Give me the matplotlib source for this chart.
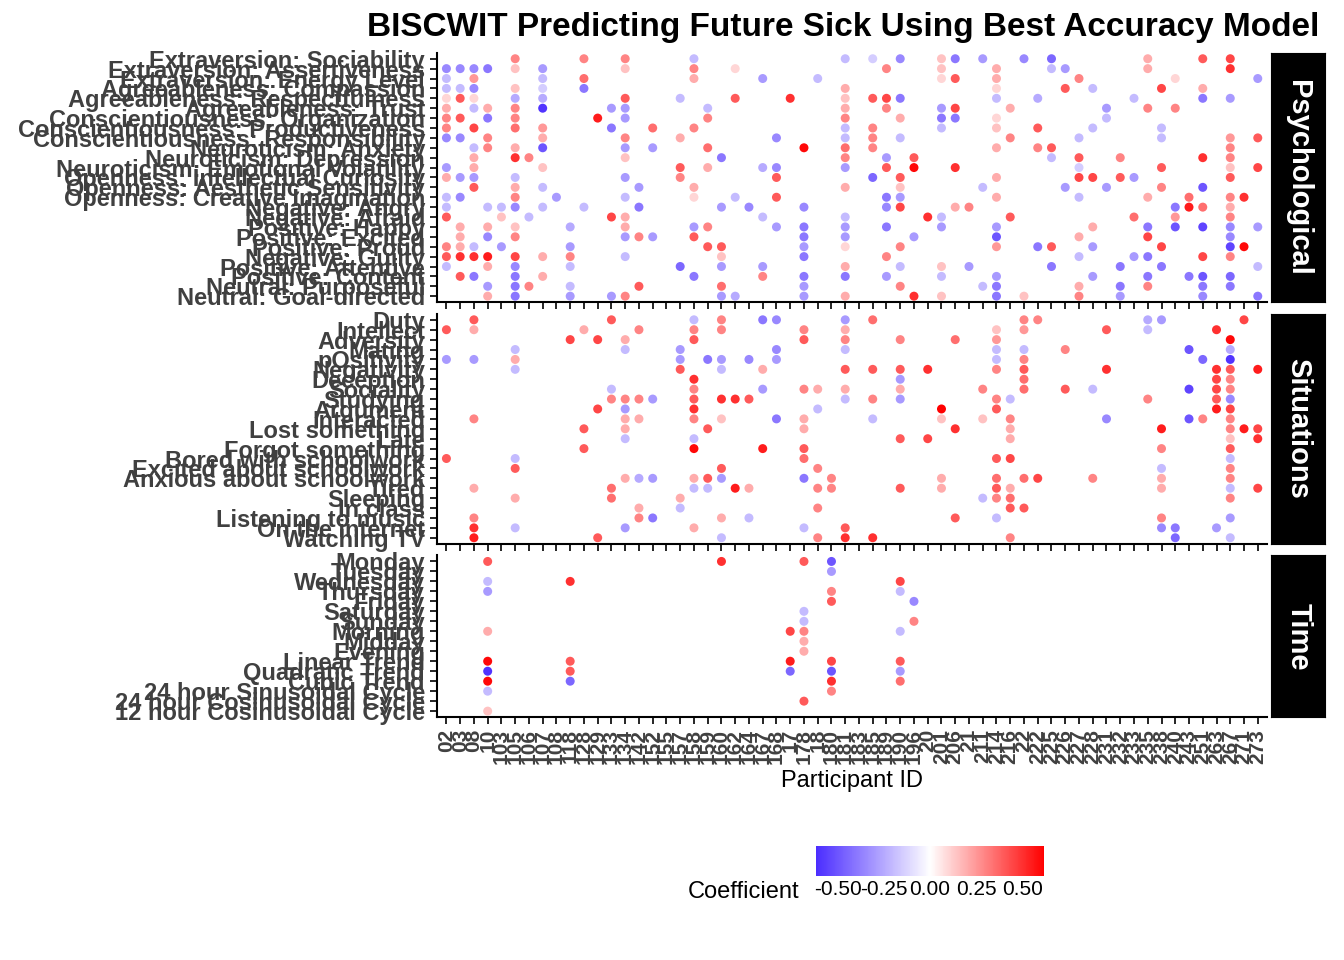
import numpy as np
import matplotlib.pyplot as plt
from matplotlib.colors import LinearSegmentedColormap

plt.rcParams['font.family'] = ['Liberation Sans', 'DejaVu Sans']

# --- DANE ---
participants = ["02", "03", "08", "10", "103", "105", "106", "107", "108", "118",
                "128", "129", "133", "134", "142", "152", "155", "157", "158", "159",
                "160", "162", "164", "167", "168", "17", "178", "18", "180", "181",
                "183", "185", "189", "190", "196", "20", "201", "206", "21", "211",
                "214", "216", "22", "222", "225", "226", "227", "228", "231", "232",
                "233", "235", "238", "240", "243", "251", "263", "267", "271", "273"]

psych_rows = ["Extraversion: Sociability", "Extraversion: Assertiveness", "Extraversion: Energy Level",
              "Agreeableness: Compassion", "Agreeableness: Respectfulness", "Agreeableness: Trust",
              "Conscientiousness: Organization", "Conscientiousness: Productiveness",
              "Conscientiousness: Responsibility", "Neuroticism: Anxiety", "Neuroticism: Depression",
              "Neuroticism: Emotional Volatility", "Openness: Intellectual Curiosity",
              "Openness: Aesthetic Sensitivity", "Openness: Creative Imagination", "Negative: Angry",
              "Negative: Afraid", "Positive: Happy", "Positive: Excited", "Positive: Proud",
              "Negative: Guilty", "Positive: Attentive", "Positive: Content", "Neutral: Purposeful",
              "Neutral: Goal-directed"]
situ_rows = ["Duty", "Intellect", "Adversity", "Mating", "pOsitivity", "Negativity", "Deception",
             "Sociality", "Studying", "Argument", "Interacted", "Lost something", "Late",
             "Forgot something", "Bored with schoolwork", "Excited about schoolwork",
             "Anxious about schoolwork", "Tired", "Sleeping", "In class", "Listening to music",
             "On the internet", "Watching TV"]
time_rows = ["Monday", "Tuesday", "Wednesday", "Thursday", "Friday", "Saturday", "Sunday",
             "Morning", "Midday", "Evening", "Linear Trend", "Quadratic Trend", "Cubic Trend",
             "24 hour Sinusoidal Cycle", "24 hour Cosinusoidal Cycle", "12 hour Cosinusoidal Cycle"]

psych_pts = [
    (0, 5, .3), (0, 10, .3), (0, 13, .3), (0, 18, -.2), (0, 29, -.2), (0, 31, -.15), (0, 33, -.35),
    (0, 36, .15), (0, 37, -.4), (0, 39, -.3), (0, 42, -.35), (0, 44, -.45), (0, 51, .2), (0, 55, .4), (0, 57, .45),
    (1, 0, -.35), (1, 1, -.35), (1, 2, -.35), (1, 3, -.4), (1, 5, .15), (1, 7, -.3), (1, 13, .15),
    (1, 18, .3), (1, 21, .1), (1, 32, .3), (1, 36, .15), (1, 40, .2), (1, 44, -.2), (1, 45, -.3), (1, 51, .2),
    (1, 57, .5),
    (2, 0, -.2), (2, 2, .25), (2, 7, -.2), (2, 10, .35), (2, 18, .2), (2, 23, -.3), (2, 27, -.2),
    (2, 36, .1), (2, 37, .4), (2, 40, .2), (2, 46, .3), (2, 53, .1), (2, 59, -.3),
    (3, 0, -.2), (3, 1, -.2), (3, 2, -.35), (3, 5, .15), (3, 7, -.15), (3, 10, -.4), (3, 29, .2),
    (3, 40, .1), (3, 45, .4), (3, 47, -.2), (3, 52, .45), (3, 55, .2),
    (4, 0, .1), (4, 1, .4), (4, 2, .1), (4, 5, -.25), (4, 7, -.25), (4, 13, .4), (4, 17, -.2),
    (4, 21, .4), (4, 25, .5), (4, 29, .15), (4, 31, .4), (4, 32, .45), (4, 33, -.4), (4, 40, -.2), (4, 43, -.25),
    (4, 50, -.2), (4, 55, -.4), (4, 57, -.3),
    (5, 0, .2), (5, 2, -.2), (5, 3, .2), (5, 5, .3), (5, 7, -.6), (5, 12, -.3), (5, 13, -.3),
    (5, 19, -.2), (5, 29, .2), (5, 32, .3), (5, 36, -.3), (5, 37, .45), (5, 41, .2), (5, 48, -.3), (5, 51, .3),
    (5, 53, .3),
    (6, 0, .3), (6, 1, .4), (6, 3, -.4), (6, 5, .3), (6, 11, .55), (6, 13, -.3), (6, 19, .3),
    (6, 29, .3), (6, 33, .2), (6, 36, -.4), (6, 37, -.4), (6, 40, .1), (6, 48, -.2),
    (7, 0, .3), (7, 2, .45), (7, 5, .35), (7, 7, .25), (7, 12, -.4), (7, 15, .35), (7, 18, .3),
    (7, 29, -.2), (7, 31, .3), (7, 36, -.2), (7, 40, .15), (7, 43, .4), (7, 47, -.2), (7, 52, -.2),
    (8, 0, -.35), (8, 1, -.35), (8, 3, .3), (8, 7, .2), (8, 13, .3), (8, 17, .2), (8, 24, -.35),
    (8, 29, -.2), (8, 31, .3), (8, 33, -.2), (8, 41, .3), (8, 46, -.2), (8, 52, -.2), (8, 57, .25), (8, 59, .4),
    (9, 2, -.2), (9, 3, .3), (9, 5, .2), (9, 7, -.5), (9, 13, -.3), (9, 15, -.3), (9, 19, .35),
    (9, 26, .6), (9, 29, .35), (9, 31, .3), (9, 40, .2), (9, 43, .3), (9, 44, .4), (9, 57, .3),
    (10, 2, .2), (10, 5, .5), (10, 6, .3), (10, 13, .15), (10, 20, -.4), (10, 29, .3), (10, 32, -.3),
    (10, 34, .4), (10, 44, -.2), (10, 46, .4), (10, 49, .3), (10, 55, .5), (10, 57, .3),
    (11, 0, -.3), (11, 2, .2), (11, 7, .15), (11, 17, .4), (11, 19, .2), (11, 23, -.25), (11, 24, -.35),
    (11, 29, -.3), (11, 32, .4), (11, 34, .6), (11, 37, .5), (11, 46, -.15), (11, 52, .4), (11, 57, .15),
    (11, 59, .45),
    (12, 0, .2), (12, 1, -.3), (12, 2, -.3), (12, 5, -.2), (12, 13, -.3), (12, 17, .3), (12, 24, .4),
    (12, 31, -.45), (12, 33, .4), (12, 40, .2), (12, 46, .45), (12, 47, .45), (12, 49, .4), (12, 50, -.3),
    (12, 57, .4),
    (13, 2, .4), (13, 5, .2), (13, 7, -.2), (13, 14, -.3), (13, 18, .2), (13, 29, .2), (13, 33, .15),
    (13, 39, -.2), (13, 45, -.3), (13, 48, -.3), (13, 52, .3), (13, 55, -.5),
    (14, 0, -.2), (14, 1, -.35), (14, 5, .3), (14, 8, -.3), (14, 13, -.2), (14, 18, .1), (14, 21, -.2),
    (14, 24, .4), (14, 32, -.4), (14, 33, -.3), (14, 40, .2), (14, 46, -.2), (14, 51, .2), (14, 54, .35),
    (14, 57, .3), (14, 58, .5),
    (15, 0, -.2), (15, 3, -.2), (15, 4, -.2), (15, 5, -.35), (15, 7, -.2), (15, 10, -.2), (15, 14, -.4),
    (15, 20, -.3), (15, 22, -.35), (15, 26, -.35), (15, 32, -.35), (15, 33, .45), (15, 37, .2), (15, 38, .3),
    (15, 53, -.4), (15, 54, .55), (15, 55, .35), (15, 57, .2),
    (16, 0, .4), (16, 4, .15), (16, 6, -.2), (16, 12, .45), (16, 13, .2), (16, 23, -.2), (16, 29, -.2),
    (16, 35, .5), (16, 36, -.2), (16, 41, .4), (16, 50, .35), (16, 53, .25), (16, 57, .3),
    (17, 1, .2), (17, 3, .2), (17, 5, .15), (17, 9, -.25), (17, 13, .2), (17, 18, -.3), (17, 19, .3),
    (17, 24, -.3), (17, 26, -.4), (17, 29, -.3), (17, 32, -.4), (17, 36, -.3), (17, 40, -.3), (17, 47, .2),
    (17, 51, -.4), (17, 53, -.5), (17, 55, -.55), (17, 57, -.35), (17, 59, -.3),
    (18, 1, .2), (18, 3, -.35), (18, 5, .3), (18, 13, -.3), (18, 14, .3), (18, 15, -.3), (18, 18, .4),
    (18, 26, -.4), (18, 29, -.3), (18, 34, -.3), (18, 40, -.5), (18, 46, .2), (18, 51, .45), (18, 57, -.35),
    (19, 0, .3), (19, 1, .2), (19, 2, -.2), (19, 4, -.3), (19, 9, -.3), (19, 19, .4), (19, 20, .4),
    (19, 26, -.3), (19, 29, .1), (19, 33, .3), (19, 40, .25), (19, 43, -.4), (19, 44, .4), (19, 47, -.3),
    (19, 52, .45), (19, 57, -.55), (19, 58, .6),
    (20, 0, .4), (20, 1, .5), (20, 2, .5), (20, 3, .55), (20, 5, .45), (20, 7, .2), (20, 9, .3),
    (20, 13, -.2), (20, 20, .15), (20, 26, -.4), (20, 32, .3), (20, 46, -.2), (20, 50, -.3), (20, 51, -.4),
    (20, 55, .45), (20, 57, .3),
    (21, 0, -.2), (21, 3, .2), (21, 5, -.35), (21, 9, -.2), (21, 17, -.45), (21, 20, -.3), (21, 23, -.3),
    (21, 29, .2), (21, 33, -.2), (21, 36, .15), (21, 38, -.3), (21, 44, -.4), (21, 49, -.4), (21, 52, -.4),
    (21, 59, -.2),
    (22, 1, .4), (22, 2, -.4), (22, 5, -.4), (22, 7, .2), (22, 18, -.4), (22, 23, .3), (22, 26, -.4),
    (22, 29, -.4), (22, 32, -.3), (22, 36, -.2), (22, 40, -.3), (22, 47, -.3), (22, 51, -.4), (22, 54, -.4),
    (22, 55, -.5), (22, 57, -.45),
    (23, 3, -.3), (23, 5, -.4), (23, 6, .3), (23, 9, -.2), (23, 14, .4), (23, 20, .35), (23, 26, -.3),
    (23, 33, .3), (23, 39, -.2), (23, 40, -.4), (23, 46, .2), (23, 49, -.4), (23, 51, .3), (23, 55, -.4),
    (23, 57, -.4),
    (24, 3, .2), (24, 5, -.4), (24, 9, -.3), (24, 12, -.3), (24, 13, .3), (24, 20, -.3), (24, 21, -.25),
    (24, 26, -.3), (24, 29, .2), (24, 34, .5), (24, 36, .15), (24, 40, -.4), (24, 42, .15), (24, 46, .3),
    (24, 49, -.3), (24, 55, -.35), (24, 59, -.4),
]
situ_pts = [
    (0, 2, .4), (0, 12, .4), (0, 18, -.2), (0, 20, .3), (0, 23, -.4), (0, 24, -.35), (0, 29, -.3),
    (0, 31, .35), (0, 42, .3), (0, 43, .3), (0, 51, -.25), (0, 52, -.3), (0, 58, .45),
    (1, 0, .4), (1, 2, .2), (1, 10, .2), (1, 14, .3), (1, 18, .3), (1, 20, .3), (1, 26, .3),
    (1, 29, .2), (1, 40, .15), (1, 42, .25), (1, 48, .4), (1, 51, -.2), (1, 56, .5),
    (2, 9, .45), (2, 11, .45), (2, 13, .2), (2, 18, .4), (2, 26, .4), (2, 29, .3), (2, 33, .3),
    (2, 37, .35), (2, 40, .25), (2, 57, .6),
    (3, 5, -.2), (3, 13, -.2), (3, 17, -.3), (3, 24, -.35), (3, 29, -.2), (3, 40, -.2), (3, 42, -.2),
    (3, 45, .3), (3, 54, -.5), (3, 57, -.25),
    (4, 0, -.3), (4, 2, -.3), (4, 5, .2), (4, 17, -.3), (4, 19, -.4), (4, 20, -.3), (4, 22, -.35),
    (4, 24, -.3), (4, 40, -.2), (4, 42, .3), (4, 55, -.45), (4, 57, -.6),
    (5, 5, -.2), (5, 17, .4), (5, 20, -.2), (5, 23, .2), (5, 29, .4), (5, 31, .4), (5, 33, .4),
    (5, 35, .5), (5, 40, .3), (5, 42, .4), (5, 48, .5), (5, 56, .5), (5, 57, .4), (5, 59, .55),
    (6, 18, .5), (6, 33, -.3), (6, 42, .35), (6, 56, .45), (6, 57, .3),
    (7, 12, -.2), (7, 18, .3), (7, 23, -.3), (7, 26, .3), (7, 27, .2), (7, 29, .2), (7, 33, .2),
    (7, 39, .3), (7, 42, .35), (7, 45, .4), (7, 47, -.2), (7, 54, -.55), (7, 56, .45), (7, 57, .3),
    (8, 12, .3), (8, 13, .3), (8, 14, .3), (8, 15, -.3), (8, 18, .4), (8, 20, .5), (8, 21, .5),
    (8, 22, .4), (8, 29, -.2), (8, 31, .3), (8, 33, -.3), (8, 40, .3), (8, 41, -.2), (8, 51, .3),
    (8, 56, .4), (8, 57, -.35),
    (9, 11, .45), (9, 13, -.3), (9, 18, .5), (9, 27, -.2), (9, 36, .7), (9, 40, .4), (9, 56, .55),
    (9, 57, .45),
    (10, 2, .3), (10, 13, .2), (10, 14, .2), (10, 18, .3), (10, 20, .15), (10, 24, -.4), (10, 26, .2),
    (10, 31, -.2), (10, 36, .15), (10, 39, .15), (10, 41, .3), (10, 48, -.35), (10, 54, -.5),
    (10, 55, .3), (10, 57, .3),
    (11, 10, .4), (11, 13, .2), (11, 19, .4), (11, 26, .2), (11, 37, .5), (11, 41, .2), (11, 52, .55),
    (11, 57, .3), (11, 58, .55), (11, 59, .45),
    (12, 13, -.2), (12, 18, -.2), (12, 33, .4), (12, 35, .45), (12, 41, .2), (12, 57, .15), (12, 59, .5),
    (13, 10, .4), (13, 18, .6), (13, 23, .55), (13, 26, .4), (13, 52, .3), (13, 57, .4),
    (14, 0, .4), (14, 5, -.2), (14, 26, .35), (14, 40, .4), (14, 41, .45), (14, 57, -.2),
    (15, 5, .4), (15, 20, .4), (15, 27, .3), (15, 52, -.2), (15, 57, .3),
    (16, 13, .2), (16, 14, -.25), (16, 15, -.3), (16, 18, .2), (16, 19, .4), (16, 20, -.3),
    (16, 26, -.4), (16, 28, .3), (16, 36, .2), (16, 40, .35), (16, 42, .35), (16, 43, .45), (16, 47, .3),
    (16, 52, .2), (16, 57, .3),
    (17, 2, .2), (17, 12, .35), (17, 18, -.2), (17, 19, -.2), (17, 21, .55), (17, 22, .2), (17, 27, .3),
    (17, 28, .3), (17, 33, .4), (17, 36, .2), (17, 40, .4), (17, 41, .2), (17, 52, .2), (17, 57, -.2),
    (17, 59, .45),
    (18, 5, .2), (18, 12, .35), (18, 17, .2), (18, 39, -.2), (18, 40, .3), (18, 41, .35), (18, 57, .3),
    (19, 14, .2), (19, 17, -.2), (19, 27, .3), (19, 41, .4), (19, 42, .4),
    (20, 2, .3), (20, 14, .3), (20, 15, -.4), (20, 20, .2), (20, 22, -.2), (20, 37, .4), (20, 40, -.2),
    (20, 52, .3), (20, 57, -.3),
    (21, 2, .5), (21, 5, -.2), (21, 13, -.3), (21, 18, .2), (21, 26, -.2), (21, 29, .4), (21, 52, -.35),
    (21, 53, -.4), (21, 56, -.3),
    (22, 2, .55), (22, 11, .4), (22, 20, -.2), (22, 27, .3), (22, 29, .5), (22, 31, .5), (22, 41, .3),
    (22, 53, -.45), (22, 57, -.2),
]
time_pts = [
    (0, 3, .4), (0, 20, .5), (0, 26, .4), (0, 28, -.5),
    (1, 28, -.3), (2, 3, -.2), (2, 9, .5), (2, 33, .45),
    (3, 3, -.3), (3, 28, .3), (3, 33, -.2),
    (4, 28, .4), (4, 34, -.35), (5, 26, -.2), (6, 26, -.2), (6, 34, .3),
    (7, 3, .2), (7, 25, .45), (7, 26, .3), (7, 33, -.2),
    (8, 26, .2), (9, 26, .2),
    (10, 3, .6), (10, 9, .4), (10, 25, .55), (10, 28, .45), (10, 33, .4),
    (11, 3, -.6), (11, 9, .4), (11, 25, -.45), (11, 28, -.5), (11, 33, -.3),
    (12, 3, .6), (12, 9, -.45), (12, 28, .5), (12, 33, .35),
    (13, 3, -.2), (13, 28, .3), (14, 26, .4), (15, 3, .15),
]

cmap = LinearSegmentedColormap.from_list('coef', ['#4b2dff', '#ffffff', '#ff0000'])
VMIN, VMAX = -0.62, 0.62

fig = plt.figure(figsize=(13.44, 9.6), dpi=100)
panels = [(psych_rows, psych_pts, 'Psychological'),
          (situ_rows, situ_pts, 'Situations'),
          (time_rows, time_pts, 'Time')]
ratios = [len(p[0]) + 0.6 for p in panels]
gs = fig.add_gridspec(3, 1, height_ratios=ratios, left=0.325, right=0.943,
                      top=0.945, bottom=0.253, hspace=0.055)

xpos = np.arange(len(participants))
for k, (rows, pts, name) in enumerate(panels):
    ax = fig.add_subplot(gs[k])
    r = np.array([p[0] for p in pts])
    c = np.array([p[1] for p in pts])
    v = np.array([p[2] for p in pts])
    sc = ax.scatter(c, r, c=v, cmap=cmap, vmin=VMIN, vmax=VMAX, s=42, linewidths=0, zorder=3)
    ax.set_ylim(len(rows) - 0.4, -0.6)
    ax.set_xlim(-0.7, len(participants) - 0.3)
    ax.set_yticks(range(len(rows)))
    ax.set_yticklabels(rows, fontsize=17, fontweight='bold', color='#404040')
    ax.set_xticks(xpos)
    for s in ['top', 'right']:
        ax.spines[s].set_visible(False)
    ax.spines['left'].set_linewidth(1.5)
    ax.spines['bottom'].set_linewidth(1.5)
    ax.tick_params(axis='both', length=5, width=1.2)
    if k < 2:
        ax.tick_params(axis='x', labelbottom=False)
    else:
        ax.set_xticklabels(participants, rotation=90, fontsize=15, fontweight='bold', color='#404040')
        ax.set_xlabel('Participant ID', fontsize=17)
    # pasek z nazwą panelu
    pos = ax.get_position()
    strip = fig.add_axes([pos.x1 + 0.003, pos.y0, 0.04, pos.height])
    strip.set_facecolor('black')
    strip.set_xticks([]); strip.set_yticks([])
    strip.text(0.5, 0.5, name, rotation=-90, ha='center', va='center', color='white',
               fontsize=21, fontweight='bold', transform=strip.transAxes)

fig.suptitle('BISCWIT Predicting Future Sick Using Best Accuracy Model', x=0.627, y=0.988,
             fontsize=24, fontweight='bold')

cax = fig.add_axes([0.607, 0.088, 0.17, 0.031])
cb = fig.colorbar(sc, cax=cax, orientation='horizontal', ticks=[-0.5, -0.25, 0, 0.25, 0.5])
cb.ax.set_xticklabels(['-0.50', '-0.25', '0.00', '0.25', '0.50'], fontsize=15)
cb.outline.set_visible(False)
cb.ax.tick_params(length=0)
fig.text(0.595, 0.071, 'Coefficient', fontsize=17, ha='right', va='center')

fig.savefig('out.png', dpi=100)
